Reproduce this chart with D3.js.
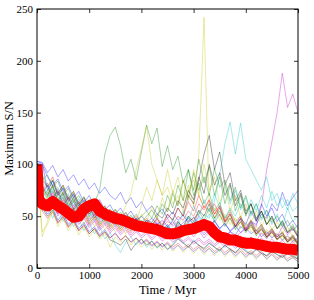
<!DOCTYPE html>
<html>
<head>
<meta charset="utf-8">
<script src="https://cdn.jsdelivr.net/npm/d3@7"></script>
<style>
  body { margin: 0; background: #fff; }
  text { font-family: 'Liberation Serif', 'DejaVu Serif', serif; }
</style>
</head>
<body>
<div id="chart"></div>
<script>
// sample times (Myr) shared by all runs
const times = [0, 100, 200, 300, 400, 500, 600, 700, 800, 900,
  1000, 1100, 1200, 1300, 1400, 1500, 1600, 1700, 1800, 1900,
  2000, 2100, 2200, 2300, 2400, 2500, 2600, 2700, 2800, 2900,
  3000, 3100, 3200, 3300, 3400, 3500, 3600, 3700, 3800, 3900,
  4000, 4100, 4200, 4300, 4400, 4500, 4600, 4700, 4800, 4900, 5000]

// individual runs, maximum S/N
const blue1 = [103, 102, 92, 99, 88, 95, 84, 90, 80, 86, 76, 82, 72, 78, 70, 66, 73, 62, 68, 58, 64, 55, 60, 52, 57, 48, 54, 46, 51, 44, 49, 42, 47, 40, 45, 38, 43, 36, 41, 34, 39, 33, 37, 30, 35, 29, 33, 27, 31, 26, 29]
const green1 = [98, 80, 72, 85, 70, 78, 65, 72, 60, 68, 58, 63, 75, 110, 128, 136, 118, 92, 105, 85, 112, 138, 120, 135, 98, 118, 95, 108, 82, 95, 70, 82, 62, 72, 55, 63, 48, 56, 45, 50, 40, 46, 36, 42, 33, 38, 30, 34, 27, 31, 25]
const red1 = [100, 70, 65, 74, 62, 68, 58, 64, 55, 60, 52, 58, 49, 55, 46, 52, 44, 48, 42, 47, 40, 44, 38, 43, 36, 40, 35, 42, 38, 45, 48, 52, 60, 55, 62, 50, 45, 48, 40, 44, 36, 40, 33, 37, 30, 34, 28, 31, 26, 29, 24]
const cyan1 = [95, 55, 62, 48, 58, 45, 52, 40, 47, 36, 44, 33, 40, 28, 34, 22, 15, 25, 30, 22, 28, 20, 26, 19, 24, 18, 23, 30, 25, 20, 27, 22, 18, 24, 20, 16, 22, 18, 15, 20, 17, 14, 18, 15, 12, 16, 13, 11, 14, 12, 10]
const magenta1 = [100, 75, 82, 68, 76, 62, 70, 58, 65, 54, 60, 50, 57, 47, 53, 44, 50, 42, 48, 40, 45, 38, 43, 36, 41, 48, 40, 45, 38, 43, 36, 40, 34, 39, 33, 37, 31, 35, 30, 34, 38, 45, 40, 60, 95, 122, 150, 188, 155, 168, 150]
const yellow1 = [100, 30, 45, 60, 52, 66, 48, 58, 45, 55, 42, 50, 40, 48, 38, 44, 36, 42, 50, 45, 60, 78, 65, 85, 70, 95, 72, 88, 65, 80, 60, 110, 242, 60, 48, 55, 42, 50, 38, 45, 35, 40, 32, 37, 30, 34, 28, 31, 25, 28, 22]
const black1 = [100, 72, 80, 66, 74, 60, 68, 56, 63, 52, 60, 48, 55, 45, 52, 42, 48, 40, 46, 38, 44, 36, 42, 48, 40, 52, 46, 58, 50, 70, 62, 85, 110, 128, 95, 112, 80, 92, 65, 75, 55, 62, 48, 55, 42, 48, 38, 43, 34, 38, 30]
const blue2 = [102, 60, 52, 58, 46, 53, 42, 48, 38, 44, 35, 40, 32, 37, 29, 34, 27, 31, 25, 29, 23, 27, 21, 25, 20, 24, 18, 22, 17, 21, 16, 20, 15, 19, 14, 18, 13, 17, 12, 16, 11, 15, 10, 14, 9, 13, 8, 12, 7, 10, 6]
const green2 = [98, 85, 90, 78, 84, 70, 77, 64, 70, 60, 66, 55, 61, 52, 57, 49, 54, 46, 51, 44, 50, 55, 48, 60, 52, 70, 58, 80, 65, 95, 75, 105, 82, 98, 70, 88, 62, 80, 55, 70, 50, 62, 45, 55, 42, 50, 38, 46, 35, 42, 32]
const red2 = [101, 85, 78, 88, 72, 80, 66, 74, 62, 68, 57, 64, 54, 60, 50, 56, 47, 53, 45, 50, 43, 48, 41, 46, 40, 45, 42, 50, 46, 55, 50, 62, 56, 65, 52, 60, 45, 52, 40, 47, 36, 42, 33, 38, 30, 35, 27, 32, 25, 29, 23]
const cyan2 = [99, 68, 75, 62, 70, 57, 64, 52, 60, 48, 55, 45, 52, 42, 48, 40, 46, 38, 44, 36, 42, 35, 40, 34, 39, 33, 38, 32, 40, 36, 45, 40, 52, 48, 65, 90, 120, 141, 110, 140, 105, 95, 85, 75, 88, 65, 72, 58, 66, 55, 60]
const magenta2 = [97, 62, 56, 64, 50, 57, 46, 52, 42, 48, 39, 45, 36, 42, 34, 39, 32, 37, 30, 35, 29, 33, 27, 32, 26, 30, 25, 29, 24, 28, 23, 27, 22, 26, 21, 25, 20, 24, 19, 23, 18, 22, 17, 21, 16, 20, 15, 19, 14, 17, 13]
const yellow2 = [96, 78, 70, 80, 66, 74, 62, 70, 58, 65, 55, 62, 52, 58, 50, 56, 48, 60, 72, 95, 115, 137, 100, 85, 70, 78, 62, 70, 55, 75, 85, 70, 60, 52, 58, 46, 52, 42, 48, 38, 44, 35, 40, 32, 37, 30, 34, 27, 31, 24, 28]
const black2 = [100, 58, 50, 56, 44, 50, 40, 46, 36, 42, 33, 38, 30, 35, 27, 25, 22, 28, 17, 24, 28, 22, 26, 20, 24, 18, 22, 28, 24, 20, 26, 22, 19, 24, 20, 17, 22, 18, 15, 20, 16, 13, 18, 14, 12, 16, 13, 10, 14, 11, 9]
const blue3 = [103, 101, 75, 84, 70, 77, 64, 71, 60, 66, 56, 62, 52, 58, 49, 54, 46, 51, 43, 48, 41, 46, 39, 44, 37, 42, 35, 40, 34, 39, 33, 38, 32, 37, 31, 36, 30, 35, 32, 40, 36, 45, 42, 52, 48, 62, 55, 73, 60, 68, 75]
const green3 = [99, 76, 68, 78, 63, 71, 58, 66, 54, 62, 50, 58, 47, 54, 44, 51, 42, 48, 39, 46, 37, 44, 35, 42, 34, 40, 33, 45, 38, 50, 42, 55, 46, 58, 44, 52, 40, 48, 37, 45, 34, 42, 31, 38, 29, 35, 27, 32, 25, 30, 22]
const red3 = [100, 55, 48, 54, 43, 49, 39, 45, 36, 41, 33, 38, 31, 35, 29, 33, 27, 31, 25, 29, 24, 28, 22, 26, 21, 25, 20, 24, 19, 23, 18, 22, 17, 21, 16, 20, 15, 19, 14, 18, 13, 17, 12, 16, 11, 15, 10, 13, 9, 12, 8]
const cyan3 = [98, 74, 66, 76, 61, 69, 56, 64, 52, 60, 49, 56, 46, 53, 43, 50, 41, 47, 39, 45, 37, 43, 36, 42, 35, 41, 34, 40, 36, 44, 40, 48, 44, 52, 46, 55, 48, 58, 50, 62, 52, 66, 55, 70, 58, 74, 60, 68, 56, 72, 62]
const magenta3 = [101, 70, 63, 72, 58, 66, 54, 61, 50, 57, 47, 54, 44, 51, 42, 48, 40, 46, 38, 44, 36, 42, 34, 40, 33, 39, 32, 38, 31, 37, 30, 36, 29, 35, 28, 34, 27, 32, 26, 31, 25, 30, 24, 29, 23, 28, 22, 27, 21, 26, 20]
const yellow3 = [97, 35, 42, 55, 40, 48, 36, 44, 32, 40, 30, 37, 28, 34, 20, 30, 25, 32, 22, 28, 20, 26, 18, 24, 17, 23, 16, 22, 15, 21, 14, 20, 13, 19, 12, 18, 11, 17, 10, 16, 9, 15, 8, 14, 8, 13, 7, 12, 6, 11, 6]
const black3 = [99, 66, 60, 70, 55, 63, 51, 58, 48, 55, 45, 52, 42, 49, 40, 46, 38, 44, 36, 42, 35, 41, 34, 40, 33, 39, 35, 44, 40, 50, 45, 56, 50, 62, 48, 58, 44, 52, 40, 48, 36, 44, 33, 40, 30, 37, 28, 34, 25, 31, 23]
const blue4 = [101, 100, 88, 80, 86, 74, 79, 68, 74, 63, 70, 60, 66, 56, 61, 52, 58, 49, 55, 46, 50, 44, 48, 42, 46, 40, 45, 38, 44, 48, 42, 50, 45, 40, 46, 38, 43, 35, 40, 48, 42, 55, 45, 62, 50, 58, 45, 52, 40, 46, 38]
const green4 = [97, 88, 78, 85, 72, 80, 67, 74, 62, 69, 58, 65, 54, 60, 51, 57, 48, 54, 46, 52, 44, 50, 56, 48, 62, 54, 72, 60, 85, 68, 92, 75, 88, 70, 96, 78, 85, 65, 78, 58, 70, 52, 62, 48, 56, 44, 50, 40, 46, 36, 42]
const red4 = [100, 62, 57, 66, 53, 60, 49, 56, 46, 52, 43, 49, 40, 46, 38, 43, 36, 41, 34, 40, 36, 44, 40, 48, 42, 52, 46, 58, 50, 64, 55, 70, 58, 66, 52, 60, 46, 54, 42, 50, 38, 46, 35, 42, 32, 38, 30, 35, 27, 32, 25]
const cyan4 = [98, 90, 80, 72, 78, 66, 72, 60, 67, 56, 62, 52, 58, 48, 55, 45, 52, 42, 48, 40, 46, 38, 44, 36, 42, 35, 48, 40, 55, 45, 60, 50, 66, 54, 72, 58, 80, 62, 75, 56, 68, 50, 62, 46, 56, 42, 52, 40, 58, 45, 50]
const magenta4 = [99, 66, 58, 64, 52, 59, 48, 54, 44, 50, 41, 47, 38, 44, 36, 41, 34, 39, 32, 37, 31, 35, 29, 34, 28, 32, 27, 31, 26, 30, 25, 29, 24, 28, 23, 27, 22, 26, 21, 25, 24, 30, 26, 34, 28, 36, 30, 40, 32, 38, 30]
const yellow4 = [96, 60, 70, 55, 64, 50, 58, 46, 54, 42, 50, 40, 46, 37, 43, 35, 41, 33, 45, 38, 52, 44, 60, 48, 68, 55, 75, 60, 85, 65, 95, 70, 100, 75, 88, 62, 80, 55, 70, 48, 62, 44, 55, 40, 50, 36, 45, 33, 40, 30, 36]
const black4 = [100, 78, 70, 80, 65, 73, 60, 68, 56, 63, 52, 60, 49, 56, 46, 52, 44, 50, 42, 48, 40, 46, 44, 52, 48, 58, 52, 65, 58, 75, 66, 88, 72, 100, 80, 92, 70, 82, 60, 72, 52, 62, 46, 55, 42, 50, 38, 45, 34, 40, 30]

// mean of all runs (thick red line)
const meanTimes = [0, 30, 100, 200, 300, 400, 500, 600, 700, 800, 900,
  1000, 1100, 1200, 1300, 1400, 1500, 1600, 1700, 1800, 1900,
  2000, 2100, 2200, 2300, 2400, 2500, 2600, 2700, 2800, 2900,
  3000, 3100, 3200, 3300, 3400, 3500, 3600, 3700, 3800, 3900,
  4000, 4100, 4200, 4300, 4400, 4500, 4600, 4700, 4800, 4900, 5000]
const meanValues = [100, 66, 62, 60, 64, 60, 57, 53, 49, 50, 57,
  60, 62, 55, 52, 50, 48, 47, 45, 43, 41,
  40, 39, 38, 37, 35, 33, 33, 34, 36, 37,
  38, 40, 42, 40, 34, 30, 29, 27, 27, 25,
  24, 24, 23, 22, 21, 20, 20, 19, 18, 18, 17]

const xTicks = [0, 1000, 2000, 3000, 4000, 5000]
const yTicks = [0, 50, 100, 150, 200, 250]

// matplotlib classic colour cycle
const colors = {
  b: '#0000ff', g: '#008000', r: '#ff0000', c: '#00bfbf',
  m: '#bf00bf', y: '#bfbf00', k: '#000000'
}

const runs = [
  ['b', blue1], ['g', green1], ['r', red1], ['c', cyan1], ['m', magenta1], ['y', yellow1], ['k', black1],
  ['b', blue2], ['g', green2], ['r', red2], ['c', cyan2], ['m', magenta2], ['y', yellow2], ['k', black2],
  ['b', blue3], ['g', green3], ['r', red3], ['c', cyan3], ['m', magenta3], ['y', yellow3], ['k', black3],
  ['b', blue4], ['g', green4], ['r', red4], ['c', cyan4], ['m', magenta4], ['y', yellow4], ['k', black4]
]

const width = 314
const height = 300
const margin = { top: 9, right: 16, bottom: 32, left: 37 }
const w = width - margin.left - margin.right
const h = height - margin.top - margin.bottom

const svg = d3.select('#chart').append('svg')
  .attr('width', width)
  .attr('height', height)

const g = svg.append('g')
  .attr('transform', 'translate(' + margin.left + ',' + margin.top + ')')

const x = d3.scaleLinear().domain([0, 5000]).range([0, w])
const y = d3.scaleLinear().domain([0, 250]).range([h, 0])

svg.append('defs').append('clipPath').attr('id', 'clip')
  .append('rect').attr('width', w).attr('height', h)

const plot = g.append('g').attr('clip-path', 'url(#clip)')

const line = d3.line()
  .x(d => x(d[0]))
  .y(d => y(d[1]))

// thin lines for each run
plot.selectAll('path.run')
  .data(runs)
  .enter()
  .append('path')
  .attr('class', 'run')
  .attr('d', d => line(times.map((t, i) => [t, d[1][i]])))
  .attr('fill', 'none')
  .attr('stroke', d => colors[d[0]])
  .attr('stroke-width', 0.7)
  .attr('stroke-opacity', 0.5)
  .attr('stroke-linejoin', 'round')

// thick mean line
plot.append('path')
  .attr('d', line(meanTimes.map((t, i) => [t, meanValues[i]])))
  .attr('fill', 'none')
  .attr('stroke', '#ff0000')
  .attr('stroke-width', 11)
  .attr('stroke-linejoin', 'round')

// axes, ticks pointing inwards on all four sides
const axisStyle = sel => {
  sel.select('.domain').remove()
  sel.selectAll('line').attr('stroke', '#000').attr('stroke-width', 0.8)
  sel.selectAll('text')
    .attr('font-size', 11)
    .attr('fill', '#000')
    .style('font-family', "'Liberation Serif', 'DejaVu Serif', serif")
}

g.append('g')
  .attr('transform', 'translate(0,' + h + ')')
  .call(d3.axisBottom(x).tickValues(xTicks).tickFormat(d3.format('d')).tickSize(-4).tickPadding(3))
  .call(axisStyle)

g.append('g')
  .call(d3.axisLeft(y).tickValues(yTicks).tickFormat(d3.format('d')).tickSize(-4).tickPadding(4))
  .call(axisStyle)

g.append('g')
  .call(d3.axisTop(x).tickValues(xTicks).tickFormat('').tickSize(-4))
  .call(axisStyle)

g.append('g')
  .attr('transform', 'translate(' + w + ',0)')
  .call(d3.axisRight(y).tickValues(yTicks).tickFormat('').tickSize(-4))
  .call(axisStyle)

// frame
g.append('rect')
  .attr('width', w)
  .attr('height', h)
  .attr('fill', 'none')
  .attr('stroke', '#000')
  .attr('stroke-width', 1)

// axis labels
svg.append('text')
  .attr('x', margin.left + w / 2)
  .attr('y', 294)
  .attr('text-anchor', 'middle')
  .attr('font-size', 12.5)
  .text('Time / Myr')

svg.append('text')
  .attr('transform', 'translate(13,' + (margin.top + h / 2) + ') rotate(-90)')
  .attr('text-anchor', 'middle')
  .attr('font-size', 12.5)
  .text('Maximum S/N')
</script>
</body>
</html>
